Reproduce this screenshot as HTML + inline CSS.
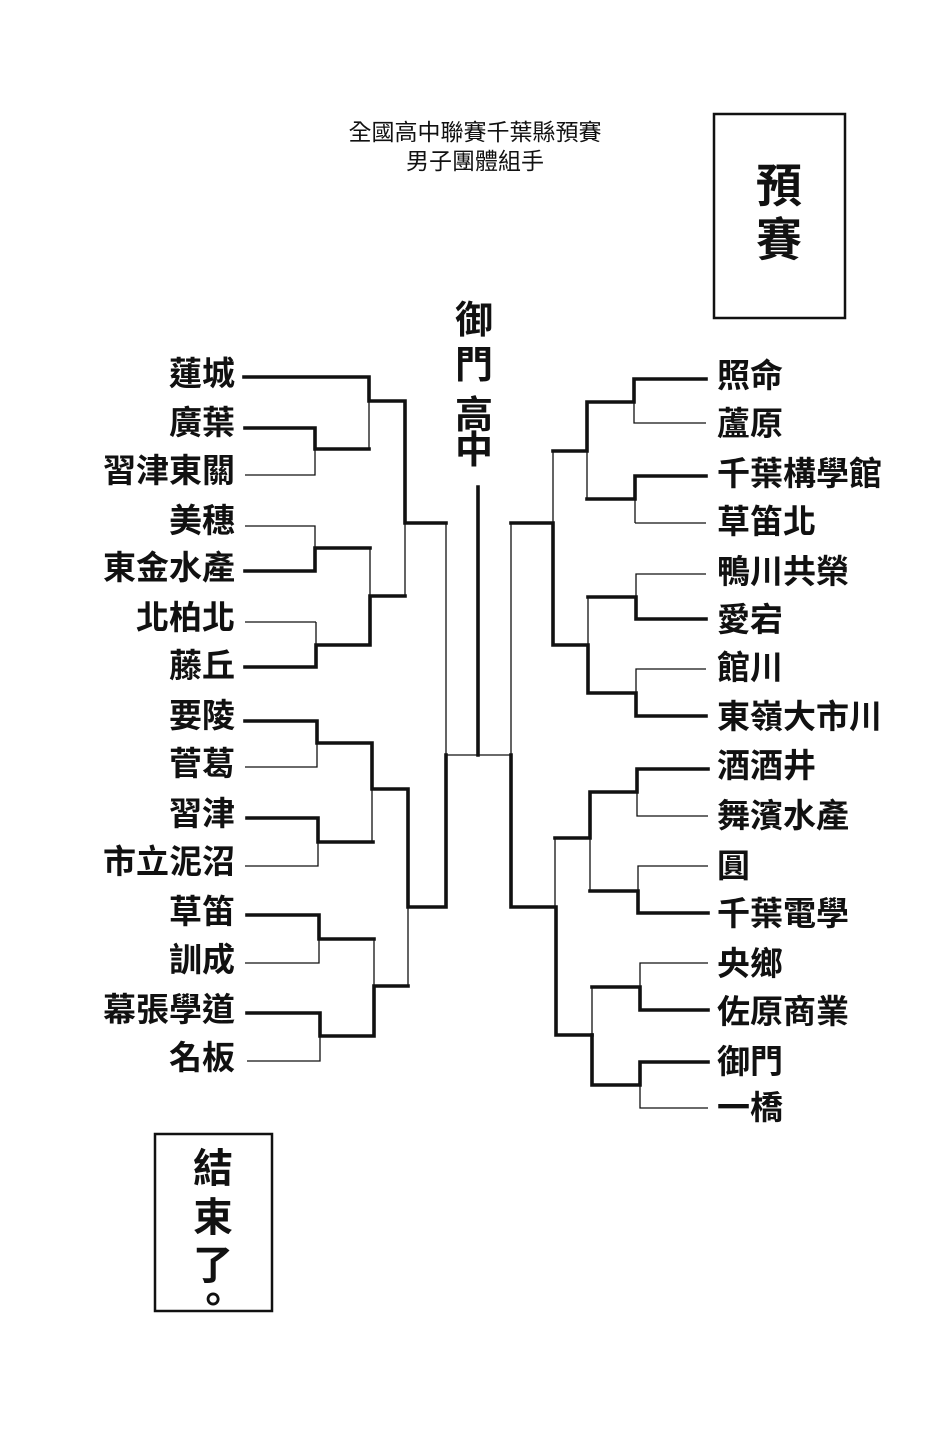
<!DOCTYPE html>
<html><head><meta charset="utf-8"><style>
html,body{margin:0;padding:0;background:#fff;}
svg{display:block;}
text{font-family:"Liberation Sans","Noto Sans CJK TC",sans-serif;fill:#111;}
.n{font-size:33px;font-weight:bold;}
</style></head><body>
<svg width="936" height="1440" viewBox="0 0 936 1440" xmlns="http://www.w3.org/2000/svg">
<rect width="936" height="1440" fill="#fff"/>
<text x="475" y="140" font-size="23" text-anchor="middle">全國高中聯賽千葉縣預賽</text>
<text x="475" y="169" font-size="23" text-anchor="middle">男子團體組手</text>
<rect x="714" y="114" width="131" height="204" fill="none" stroke="#111" stroke-width="2.5"/>
<text x="779" y="202" font-size="46" font-weight="bold" text-anchor="middle">預</text>
<text x="779" y="256" font-size="46" font-weight="bold" text-anchor="middle">賽</text>
<g font-size="38" font-weight="bold" text-anchor="middle">
<text x="474" y="333">御</text><text x="474" y="378">門</text><text x="474" y="428">高</text><text x="474" y="463">中</text>
</g>
<rect x="155" y="1134" width="117" height="177" fill="none" stroke="#111" stroke-width="2.5"/>
<g font-size="40" font-weight="bold" text-anchor="middle">
<text x="213" y="1182">結</text><text x="213" y="1231">束</text><text x="213" y="1279">了</text><text x="213" y="1314">。</text>
</g>
<g class="n" text-anchor="end">
<text x="235" y="385">蓮城</text><text x="235" y="434">廣葉</text><text x="235" y="482">習津東關</text>
<text x="235" y="532">美穗</text><text x="235" y="579">東金水產</text><text x="235" y="629">北柏北</text>
<text x="235" y="677">藤丘</text><text x="235" y="727">要陵</text><text x="235" y="775">菅葛</text>
<text x="235" y="825">習津</text><text x="235" y="873">市立泥沼</text><text x="235" y="923">草笛</text>
<text x="235" y="971">訓成</text><text x="235" y="1021">幕張學道</text><text x="235" y="1069">名板</text>
</g>
<g class="n">
<text x="717" y="387">照命</text><text x="717" y="435">蘆原</text><text x="717" y="485">千葉構學館</text>
<text x="717" y="533">草笛北</text><text x="717" y="583">鴨川共榮</text><text x="717" y="631">愛宕</text>
<text x="717" y="679">館川</text><text x="717" y="728">東嶺大市川</text><text x="717" y="777">酒酒井</text>
<text x="717" y="827">舞濱水產</text><text x="717" y="877">圓</text><text x="717" y="925">千葉電學</text>
<text x="717" y="975">央鄉</text><text x="717" y="1023">佐原商業</text><text x="717" y="1073">御門</text>
<text x="717" y="1119">一橋</text>
</g>
<g stroke="#111" stroke-width="1.3" fill="none">
<path d="M245 475H315V428M369 401V449M245 526H315V548M316 622V645H316M245 622H316M370 548V596M405 523V596M446 523V755"/>
<path d="M245 767H317V743M372 789V842M318 842V866H245M247 915H319M245 963H319V939M374 939V986M320 1036V1061H247M408 907V986"/>
<path d="M706 423H634V402M587 451V499M635 523H706M635 499V523M706 574H636V597M588 597V645M706 669H636V693M553 451V523M511 523V755"/>
<path d="M708 816H637V792M590 838V891M708 866H638V891M555 838V906M708 963H640V987M592 987V1035M708 1108H640V1085"/>
<path d="M446 755H512"/>
</g>
<g stroke="#111" stroke-width="3.6" fill="none" stroke-linecap="square">
<path d="M244 377H369V401H405V523H446"/>
<path d="M245 428H315V449H369"/>
<path d="M245 571H315V548H370"/>
<path d="M245 667H316V645H370V596H405"/>
<path d="M245 721H317V743H372V789H408V907H446V755"/>
<path d="M247 818H318V842H373"/>
<path d="M247 915H319V939H374"/>
<path d="M247 1013H320V1036H374V986H408"/>
<path d="M478 487V755"/>
<path d="M706 379H634V402H587V451H553"/>
<path d="M706 476H635V499H587"/>
<path d="M706 619H636V597H588"/>
<path d="M706 716H636V693H588V645H553V523H511"/>
<path d="M511 755V907H556V1035H592"/>
<path d="M708 769H637V792H590V838H555"/>
<path d="M708 913H638V891H590"/>
<path d="M708 1010H640V987H592"/>
<path d="M708 1062H640V1085H592V1035"/>
</g>
</svg>
</body></html>
